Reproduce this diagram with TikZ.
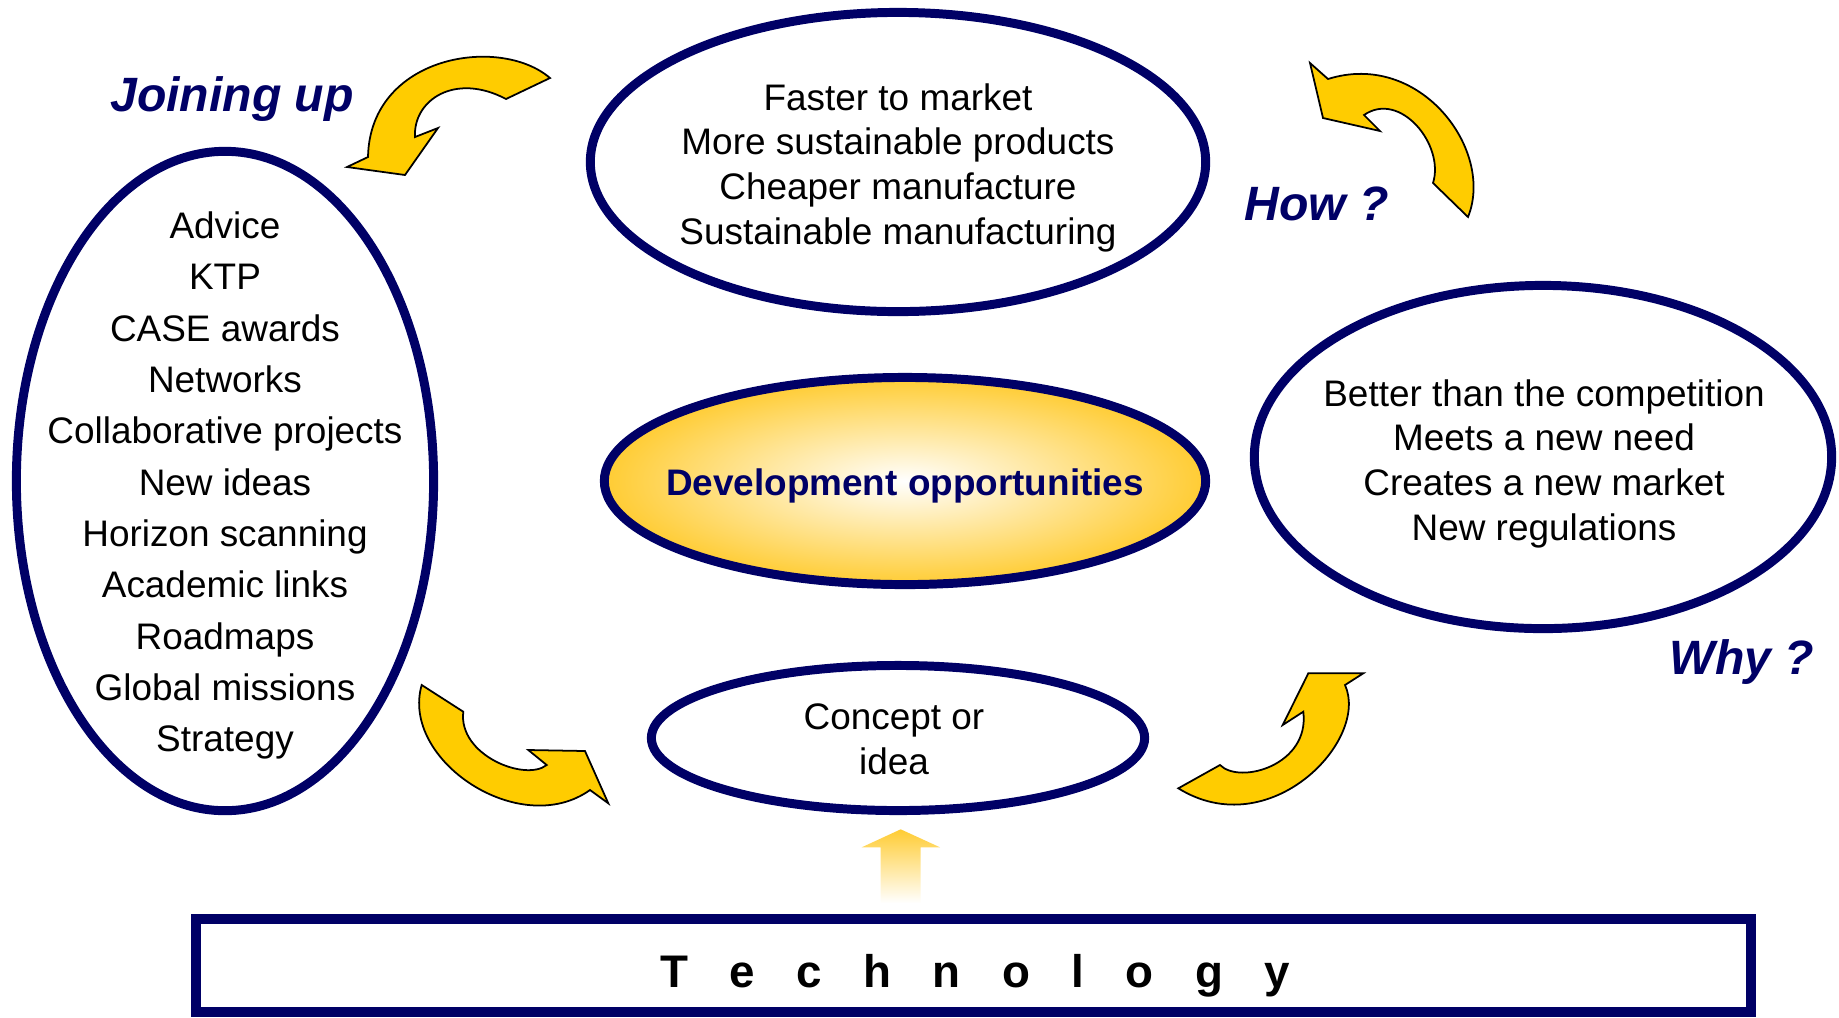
\documentclass[tikz,border=0pt]{standalone}
\usepackage{fontspec}
\setmainfont{Liberation Sans}
\usetikzlibrary{shapes.geometric}
\definecolor{navy}{HTML}{000066}
\definecolor{gold}{HTML}{FFCC00}
\definecolor{goldsoft}{HTML}{FFCC33}
\begin{document}
\begin{tikzpicture}[
    x=0.01cm, y=-0.01cm,
    ring/.style={draw=navy, line width=2.55pt, ellipse, inner sep=0pt},
    list/.style={align=center, font=\fontsize{10.5}{12.7}\selectfont},
    tag/.style={font=\fontsize{13.7}{16}\selectfont\bfseries\itshape, text=navy},
    curlarrow/.style={fill=gold, draw=black, line width=0.5pt, line join=miter},
  ]
    \useasboundingbox (0,0) rectangle (1839,1017);

    % Ellipses
    \node[ring, minimum width=4.17cm, minimum height=6.59cm]  (joining) at (225,481) {};
    \node[ring, minimum width=6.15cm, minimum height=2.99cm]  (gains)   at (898,162) {};
    \node[ring, minimum width=5.77cm, minimum height=3.43cm]  (reasons) at (1543,457) {};
    \node[ring, minimum width=4.93cm, minimum height=1.45cm]  (concept) at (898,738) {};
    \node[ring, minimum width=6.01cm, minimum height=2.07cm,
          inner color=white, outer color=goldsoft] (devopp) at (905,481) {};

    % Texts
    \node[list, font=\fontsize{10.5}{14.6}\selectfont] (joinlist) at (225,485.5)
      {Advice\\KTP\\CASE awards\\Networks\\Collaborative projects\\New ideas\\
       Horizon scanning\\Academic links\\Roadmaps\\Global missions\\Strategy};
    \node[list] (gainslist) at (898,167.5)
      {Faster to market\\More sustainable products\\Cheaper manufacture\\Sustainable manufacturing};
    \node[list] (reasonlist) at (1544,463.5)
      {Better than the competition\\Meets a new need\\Creates a new market\\New regulations};
    \node[list] (conceptlist) at (894,739) {Concept or\\idea};
    \node[font=\fontsize{10.5}{12.7}\selectfont\bfseries, text=navy] (devtext) at (905,486)
      {Development opportunities};

    % Labels
    \node[tag] (joinlabel) at (232,99.5)  {Joining up};
    \node[tag] (howlabel)  at (1317,204) {How ?};
    \node[tag] (whylabel)  at (1742,662) {Why ?};

    % Curved arrows
    \filldraw[curlarrow] (506,99) -- (550,78) .. controls (500,35) and (370,55) .. (368,157)
      -- (347,167) -- (405,175) -- (438,128) -- (415,137)
      .. controls (413,100) and (455,72) .. (506,99) -- cycle;
    \filldraw[curlarrow] (1328,79) -- (1310,63) -- (1323,118) -- (1380,131) -- (1364,115)
      .. controls (1400,90) and (1445,145) .. (1433,183) -- (1468,217)
      .. controls (1495,150) and (1420,50) .. (1328,79) -- cycle;
    \filldraw[curlarrow] (463.3,711.7) -- (421.7,685) .. controls (400,760) and (520,840) .. (590,790)
      -- (608.3,803.3) -- (585,751) -- (528.3,750) -- (546.7,765)
      .. controls (525,782) and (458,755) .. (463.3,711.7) -- cycle;
    \filldraw[curlarrow] (1178.3,788.3) -- (1220,765) .. controls (1240,785) and (1310,765) .. (1303.3,711.7)
      -- (1282.7,725) -- (1308.3,673.3) -- (1363.3,673.3) -- (1345,685)
      .. controls (1370,740) and (1270,845) .. (1178.3,788.3) -- cycle;

    % Technology
    \shade[top color=goldsoft, bottom color=white]
      (880.7,903) -- (880.7,847.3) -- (861.7,847.3) -- (900.7,829.3)
      -- (940,847.3) -- (920.7,847.3) -- (920.7,903) -- cycle;
    \node[draw=navy, line width=2.85pt, minimum width=15.55cm, minimum height=0.93cm]
      (techbox) at (973.5,965.5) {};
    \node[anchor=base, font=\fontsize{13}{15}\selectfont\bfseries] (techtext) at (975,987)
      {\spaceskip=11.8pt T e c h n o l o g y};
\end{tikzpicture}
\end{document}
